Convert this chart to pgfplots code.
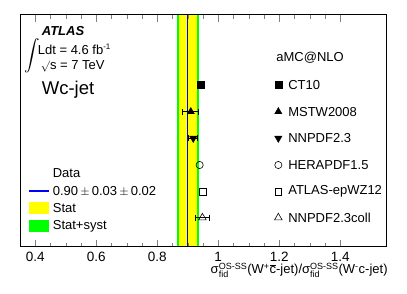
\documentclass[border=0pt]{standalone}
\usepackage{fontspec}
\setmainfont{Liberation Sans}
\usepackage{pgfplots}
\pgfplotsset{compat=1.18}
\definecolor{rootgreen}{RGB}{0,255,0}
\definecolor{rootyellow}{RGB}{255,255,0}
\begin{document}
\fontsize{13}{15}\selectfont
\begin{tikzpicture}
\begin{axis}[
  scale only axis, width=366pt, height=232pt,
  xmin=0.35, xmax=1.55, ymin=0, ymax=232,
  axis on top,
  ytick=\empty,
  xtick={0.4,0.6,0.8,1,1.2,1.4},
  minor x tick num=3,
  tick align=inside,
  xtick pos=both,
  major tick length=7pt, minor tick length=4pt,
  /pgf/number format/assume math mode=true,
  tick label style={font=\fontsize{13.5}{15}\selectfont},
  xticklabel style={yshift=-1pt},
  clip=false,
]
% bands
\addplot[fill=rootgreen, draw=none] coordinates {(0.864,0)(0.936,0)(0.936,232)(0.864,232)} -- cycle;
\addplot[fill=rootyellow, draw=none] coordinates {(0.87,0)(0.93,0)(0.93,232)(0.87,232)} -- cycle;
\addplot[blue, line width=1.2pt] coordinates {(0.90,0)(0.90,232)};
% predictions
\addplot[only marks, mark=square*, mark size=3.4pt, black] coordinates {(0.942,161.7)};
\addplot[only marks, mark=triangle*, mark size=4.2pt, black,
  error bars/.cd, x dir=both, x explicit, error mark=|, error mark options={mark size=3pt, line width=0.8pt}, error bar style={line width=0.8pt}]
  coordinates {(0.91,135) +- (0.026,0)};
\addplot[only marks, mark=triangle*, mark options={rotate=180}, mark size=4.2pt, black,
  error bars/.cd, x dir=both, x explicit, error mark=|, error mark options={mark size=3pt, line width=0.8pt}, error bar style={line width=0.8pt}]
  coordinates {(0.918,108.4) +- (0.015,0)};
\addplot[only marks, mark=o, mark size=3.6pt, black, mark options={line width=0.6pt}] coordinates {(0.939,81.7)};
\addplot[only marks, mark=square, mark size=3.4pt, black, mark options={line width=0.6pt}] coordinates {(0.949,55)};
\addplot[only marks, mark=triangle, mark size=4.4pt, black, mark options={line width=0.6pt},
  error bars/.cd, x dir=both, x explicit, error mark=|, error mark options={mark size=3pt, line width=0.8pt}, error bar style={line width=0.8pt}]
  coordinates {(0.948,29) +- (0.022,0)};
% right legend markers
\addplot[only marks, mark=square*, mark size=3.4pt, black] coordinates {(1.197,161.7)};
\addplot[only marks, mark=triangle*, mark size=4.2pt, black] coordinates {(1.197,135)};
\addplot[only marks, mark=triangle*, mark options={rotate=180}, mark size=4.2pt, black] coordinates {(1.197,108.4)};
\addplot[only marks, mark=o, mark size=3.6pt, black, mark options={line width=0.6pt}] coordinates {(1.197,81.7)};
\addplot[only marks, mark=square, mark size=3.4pt, black, mark options={line width=0.6pt}] coordinates {(1.197,55)};
\addplot[only marks, mark=triangle, mark size=4.4pt, black, mark options={line width=0.6pt}] coordinates {(1.197,29)};
\node[anchor=west, inner sep=0pt] at (axis cs:1.190,188.7) {aMC@NLO};
\node[anchor=west, inner sep=0pt] at (axis cs:1.229,161.7) {CT10};
\node[anchor=west, inner sep=0pt] at (axis cs:1.229,135) {MSTW2008};
\node[anchor=west, inner sep=0pt] at (axis cs:1.229,108.4) {NNPDF2.3};
\node[anchor=west, inner sep=0pt] at (axis cs:1.229,81.7) {HERAPDF1.5};
\node[anchor=west, inner sep=0pt] at (axis cs:1.229,55) {ATLAS-epWZ12};
\node[anchor=west, inner sep=0pt] at (axis cs:1.229,29) {NNPDF2.3coll};
% left legend
\addplot[fill=rootyellow, draw=none] coordinates {(0.3795,32.4)(0.445,32.4)(0.445,44.4)(0.3795,44.4)} -- cycle;
\addplot[fill=rootgreen, draw=none] coordinates {(0.3795,15)(0.445,15)(0.445,26.7)(0.3795,26.7)} -- cycle;
\addplot[blue, line width=1.2pt] coordinates {(0.3795,55.7)(0.445,55.7)};
\node[anchor=west, inner sep=0pt] at (axis cs:0.457,73.4) {Data};
\node[anchor=west, inner sep=0pt] at (axis cs:0.457,55.7) {0.90\,$\pm$\,0.03\,$\pm$\,0.02};
\node[anchor=west, inner sep=0pt] at (axis cs:0.457,38.4) {Stat};
\node[anchor=west, inner sep=0pt] at (axis cs:0.457,20.8) {Stat+syst};
% ATLAS labels
\node[anchor=west, inner sep=0pt, scale=1.55] at (axis cs:0.363,191) {$\displaystyle\int$};
\node[anchor=west, inner sep=0pt] at (axis cs:0.421,215.7) {\fontsize{13}{15}\selectfont\bfseries\itshape ATLAS};
\node[anchor=west, inner sep=0pt] at (axis cs:0.408,197.5) {Ldt = 4.6 fb$^{\mbox{\fontsize{8}{9}\selectfont -1}}$};
\node[anchor=west, inner sep=0pt] at (axis cs:0.418,180.7) {\fontsize{11}{13}\selectfont$\surd$\fontsize{13}{15}\selectfont s = 7 TeV};
\node[anchor=west, inner sep=0pt] at (axis cs:0.421,156.5) {\fontsize{18.5}{20}\selectfont Wc-jet};
% x label
\node[anchor=north east, inner sep=0pt] at (rel axis cs:1.005,-0.07) {%
  $\mbox{σ}^{\mbox{\fontsize{9}{10}\selectfont OS-SS}}_{\mbox{\fontsize{9}{10}\selectfont fid}}$(W$^{\mbox{\fontsize{9}{10}\selectfont +}}\overline{\mbox{c}}$-jet)/$\mbox{σ}^{\mbox{\fontsize{9}{10}\selectfont OS-SS}}_{\mbox{\fontsize{9}{10}\selectfont fid}}$(W$^{\mbox{\fontsize{9}{10}\selectfont -}}$c-jet)};
\coordinate (ll) at (rel axis cs:0,0);
\coordinate (ur) at (rel axis cs:1,1);
\end{axis}
\pgfresetboundingbox
\path ([shift={(-20pt,-47.3pt)}]ll) rectangle ([shift={(21pt,14.7pt)}]ur);
\end{tikzpicture}
\end{document}
